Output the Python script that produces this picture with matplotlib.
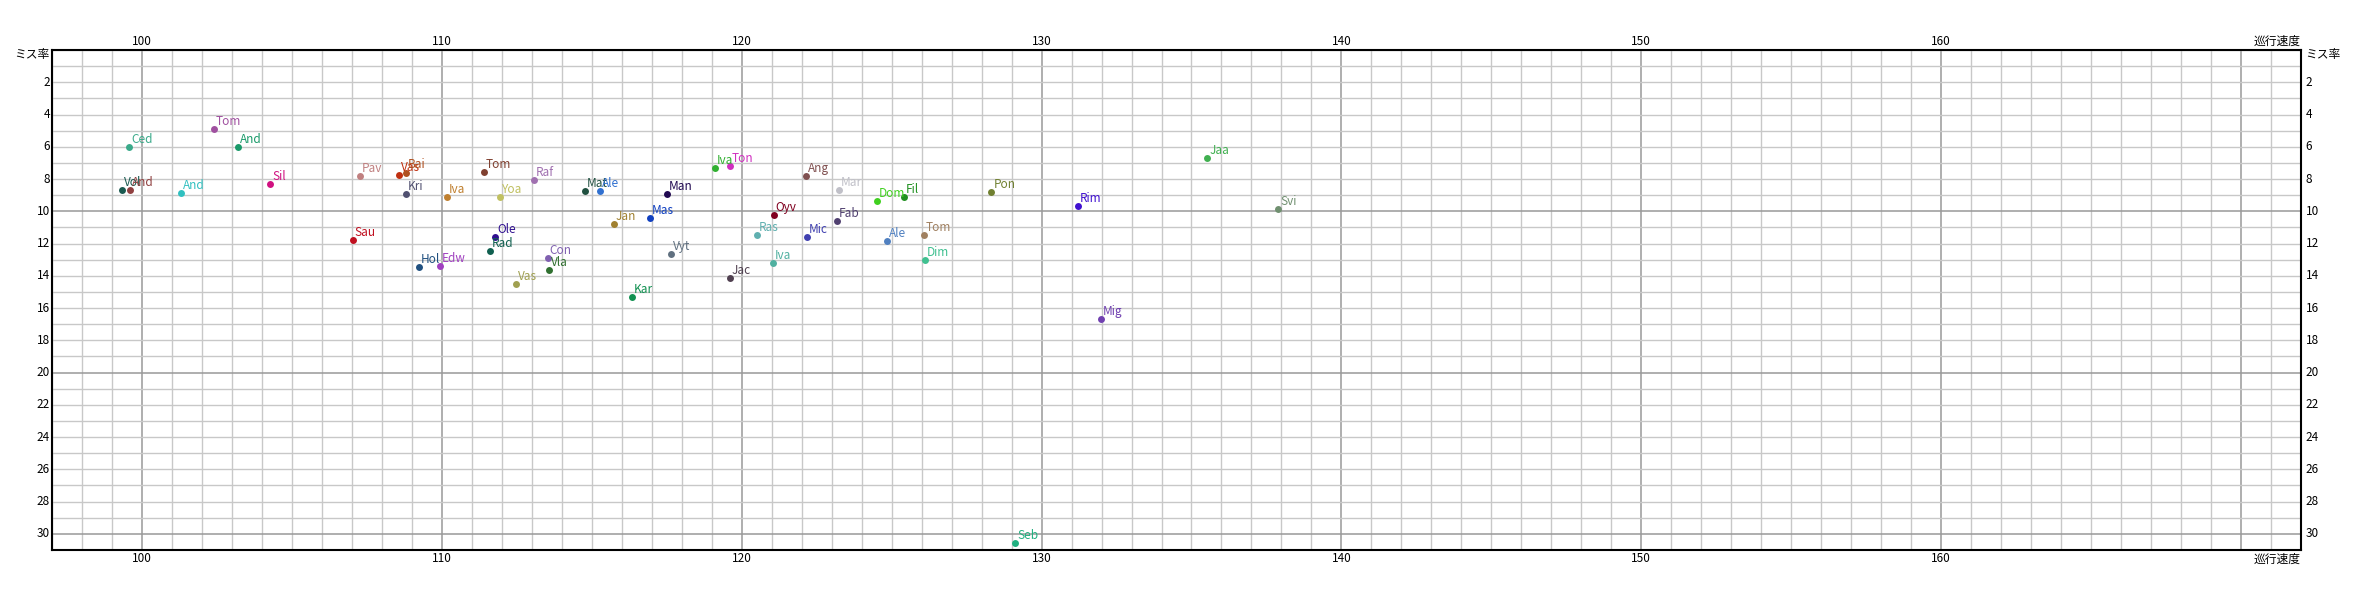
import matplotlib
matplotlib.use("Agg")

import matplotlib.pyplot as plt
from matplotlib.ticker import MultipleLocator

plt.rcParams['font.family'] = ['Noto Sans CJK JP', 'DejaVu Sans']

###------------------------data----------------------------###
names = ["Tom", "Ced", "And", "Vol", "And", "And", "Sil", "Pav", "Vas", "Bai",
         "Kri", "Iva", "Tom", "Sau", "Hol", "Edw", "Raf", "Yoa", "Mat", "Ale",
         "Man", "Mas", "Jan", "Ole", "Rad", "Con", "Vla", "Vas", "Vyt", "Kar",
         "Iva", "Ton", "Ang", "Oyv", "Ras", "Mic", "Iva", "Jac", "Mar", "Fab",
         "Dom", "Fil", "Ale", "Tom", "Dim", "Pon", "Rim", "Mig", "Jaa", "Svi",
         "Seb"]

speed = [102.4, 99.57, 103.2, 99.33, 99.6, 101.3, 104.27, 107.27, 108.56, 108.8,
         108.81, 110.17, 111.4, 107.03, 109.23, 109.93, 113.07, 111.93, 114.77, 115.27,
         117.5, 116.93, 115.73, 111.77, 111.6, 113.53, 113.57, 112.47, 117.63, 116.33,
         119.1, 119.6, 122.13, 121.07, 120.5, 122.17, 121.03, 119.6, 123.25, 123.17,
         124.51, 125.41, 124.85, 126.08, 126.11, 128.33, 131.2, 131.98, 135.53, 137.9,
         129.13]

miss = [4.91, 6.03, 6.03, 8.67, 8.67, 8.88, 8.32, 7.82, 7.76, 7.6,
        8.94, 9.12, 7.56, 11.79, 13.46, 13.40, 8.07, 9.12, 8.75, 8.75,
        8.94, 10.43, 10.80, 11.60, 12.47, 12.90, 13.65, 14.51, 12.66, 15.32,
        7.33, 7.20, 7.81, 10.24, 11.48, 11.60, 13.21, 14.14, 8.71, 10.62,
        9.37, 9.12, 11.85, 11.48, 13.03, 8.82, 9.68, 16.68, 6.71, 9.87,
        30.58]

colors = ["#a050a0", "#3aaa8a", "#1a9a6a", "#1a5a50", "#904040", "#30c0c0", "#d01080", "#c08080", "#c03010", "#b05020",
          "#505070", "#c08030", "#804030", "#c01020", "#205080", "#a040c0", "#a070b0", "#c0c060", "#205040", "#3070d0",
          "#200850", "#1040c0", "#a08030", "#301090", "#106050", "#8060b0", "#307030", "#a0a050", "#607080", "#109050",
          "#30b030", "#d030c0", "#805050", "#800020", "#60b0b0", "#4040b0", "#50b0a0", "#504050", "#c0c0c8", "#504070",
          "#40d020", "#209020", "#5080c0", "#a08060", "#40c090", "#708030", "#4010d0", "#7040b0", "#40b050", "#709070",
          "#20b080"]

x_ticks = [100, 110, 120, 130, 140, 150, 160]
y_ticks = list(range(2, 31, 2))

###------------------------figure--------------------------###
fig = plt.figure(figsize=(23.53, 6), dpi=100, facecolor="white")
ax = fig.add_axes([52 / 2353, 50 / 600, 2249 / 2353, 500 / 600])

ax.set_xlim(97, 172)
ax.set_ylim(31, 0)

ax.xaxis.set_minor_locator(MultipleLocator(1))
ax.yaxis.set_minor_locator(MultipleLocator(1))
ax.grid(which="minor", color="#c8c8c8", linewidth=1.0, zorder=0)
ax.set_xticks([100, 110, 120, 130, 140, 150, 160, 170])
ax.set_yticks([10, 20, 30])
ax.grid(which="major", color="#999999", linewidth=1.1, zorder=0)
ax.set_axisbelow(True)

# tick labels drawn as text so the grid keeps its own positions
ax.tick_params(which="both", length=0, labelbottom=False, labelleft=False)
for s in ax.spines.values():
    s.set_color("black")
    s.set_linewidth(1.5)

fs = 8.5
for xv in x_ticks:
    ax.text(xv, 0, str(xv), ha="center", va="bottom", fontsize=fs,
            transform=ax.get_xaxis_transform(), clip_on=False)
    ax.text(xv, -0.005, str(xv), ha="center", va="top", fontsize=fs,
            transform=ax.get_xaxis_transform(), clip_on=False)
    ax.texts[-2].set_y(1.004)
for yv in y_ticks:
    ax.text(-0.001, yv, str(yv), ha="right", va="center", fontsize=fs,
            transform=ax.get_yaxis_transform(), clip_on=False)
    ax.text(1.002, yv, str(yv), ha="left", va="center", fontsize=fs,
            transform=ax.get_yaxis_transform(), clip_on=False)

ax.text(-0.001, 0.3, "ミス率", ha="right", va="center", fontsize=fs,
        transform=ax.get_yaxis_transform(), clip_on=False)
ax.text(1.002, 0.3, "ミス率", ha="left", va="center", fontsize=fs,
        transform=ax.get_yaxis_transform(), clip_on=False)
ax.text(1.0, 1.004, "巡行速度", ha="right", va="bottom", fontsize=fs,
        transform=ax.transAxes, clip_on=False)
ax.text(1.0, -0.005, "巡行速度", ha="right", va="top", fontsize=fs,
        transform=ax.transAxes, clip_on=False)

###------------------------points--------------------------###
for i in range(len(names)):
    ax.plot(speed[i], miss[i], "o", color=colors[i], markersize=5,
            markeredgewidth=0, zorder=3)
    ax.annotate(names[i], (speed[i], miss[i]), xytext=(1.5, 3),
                textcoords="offset points", ha="left", va="baseline",
                fontsize=fs, color=colors[i], zorder=4)

plt.savefig("out.png", dpi=100)
